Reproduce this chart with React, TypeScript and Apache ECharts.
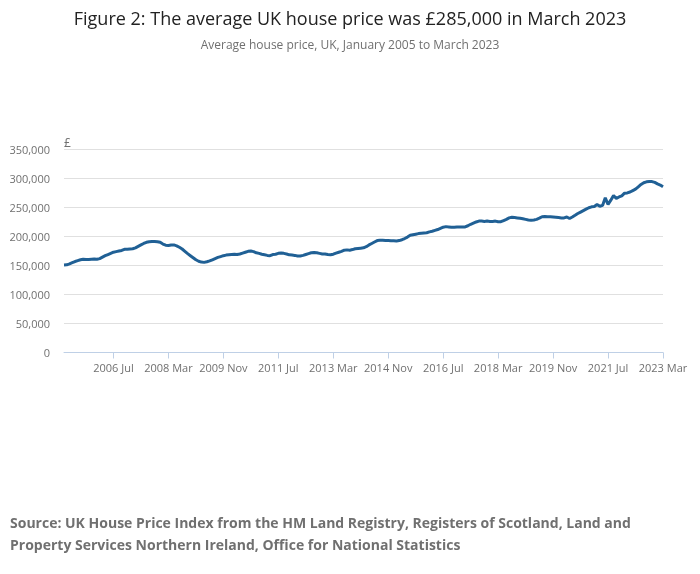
import { useEffect, useRef } from 'react';
import * as echarts from 'echarts';

// Monthly average UK house price (£ thousands), January 2005 to March 2023.
const MONTHS = ['Jan', 'Feb', 'Mar', 'Apr', 'May', 'Jun', 'Jul', 'Aug', 'Sep', 'Oct', 'Nov', 'Dec'];
const FIRST_YEAR = 2005;

const p2005 = [150.5, 150.8, 152.5, 154.5, 156.5, 158.0, 159.5, 160.3, 160.0, 160.0, 160.5, 160.8];
const p2006 = [160.5, 161.5, 164.0, 166.5, 168.5, 170.5, 172.5, 173.5, 174.5, 175.5, 177.5, 177.5];
const p2007 = [178.0, 178.5, 180.0, 182.5, 185.0, 187.5, 189.5, 190.5, 190.8, 190.8, 190.5, 189.5];
const p2008 = [186.5, 184.5, 184.0, 185.0, 185.0, 183.5, 181.0, 178.0, 174.0, 170.0, 166.5, 163.0];
const p2009 = [159.5, 157.0, 155.5, 155.0, 156.0, 157.5, 159.5, 161.5, 163.5, 165.0, 166.5, 167.5];
const p2010 = [168.0, 168.5, 169.0, 168.5, 169.5, 171.0, 172.5, 174.0, 174.5, 173.5, 171.5, 170.5];
const p2011 = [169.0, 168.0, 167.0, 166.5, 168.5, 169.0, 170.5, 171.0, 170.5, 169.5, 168.0, 167.5];
const p2012 = [167.0, 166.0, 166.0, 167.0, 168.5, 170.0, 171.5, 172.0, 171.5, 170.5, 169.5, 169.5];
const p2013 = [168.5, 168.0, 169.0, 171.0, 172.5, 174.0, 176.0, 176.5, 176.0, 177.0, 178.5, 179.0];
const p2014 = [179.5, 180.0, 182.0, 185.0, 187.5, 190.0, 192.5, 193.0, 193.0, 192.8, 192.5, 192.0];
const p2015 = [192.0, 191.8, 192.5, 194.0, 196.0, 198.5, 201.5, 202.5, 203.5, 204.5, 205.0, 205.5];
const p2016 = [206.0, 207.5, 208.5, 210.0, 211.5, 213.5, 215.5, 216.5, 216.0, 215.5, 215.5, 216.0];
const p2017 = [216.0, 216.0, 216.0, 218.0, 220.5, 222.5, 224.5, 226.0, 226.0, 225.5, 226.0, 225.5];
const p2018 = [225.5, 226.0, 225.0, 225.0, 227.0, 229.0, 231.5, 232.5, 232.0, 231.5, 231.0, 230.0];
const p2019 = [229.0, 228.0, 227.5, 228.0, 229.0, 231.0, 233.5, 234.0, 233.5, 233.5, 233.0, 232.5];
const p2020 = [232.0, 231.5, 231.5, 233.0, 230.5, 233.0, 236.0, 239.0, 241.5, 244.0, 246.5, 249.0];
const p2021 = [250.5, 251.0, 254.5, 251.5, 253.0, 266.0, 254.5, 262.0, 270.0, 265.0, 267.5, 269.5];
const p2022 = [274.0, 274.5, 276.0, 278.5, 281.0, 285.0, 289.0, 292.0, 293.5, 294.0, 294.0, 292.5];
const p2023 = [290.0, 288.0, 285.0];

const YEARS = [
  p2005, p2006, p2007, p2008, p2009, p2010, p2011, p2012, p2013,
  p2014, p2015, p2016, p2017, p2018, p2019, p2020, p2021, p2022, p2023,
];

const Y_TICKS = { min: 0, max: 350000, interval: 50000 };
const FIRST_LABEL = 18; // 2006 Jul
const LABEL_STEP = 20;

const TITLE = 'Figure 2: The average UK house price was £285,000 in March 2023';
const SUBTITLE = 'Average house price, UK, January 2005 to March 2023';
const SOURCE =
  'Source: UK House Price Index from the HM Land Registry, Registers of Scotland, Land and\nProperty Services Northern Ireland, Office for National Statistics';

const FONT = '"Open Sans", "Noto Sans", sans-serif';
const GREY = '#707070';

export default function App() {
  const ref = useRef<HTMLDivElement>(null);

  useEffect(() => {
    if (!ref.current) return;
    const chart = echarts.init(ref.current, undefined, { renderer: 'svg' });

    const categories: string[] = [];
    const values: number[] = [];
    YEARS.forEach((arr, y) => {
      arr.forEach((v, m) => {
        categories.push(`${FIRST_YEAR + y} ${MONTHS[m]}`);
        values.push(Math.round(v * 1000));
      });
    });
    const showTick = (i: number) => i >= FIRST_LABEL && (i - FIRST_LABEL) % LABEL_STEP === 0;

    chart.setOption({
      animation: false,
      textStyle: { fontFamily: FONT },
      title: [
        {
          text: TITLE,
          subtext: SUBTITLE,
          left: 'center',
          top: 4,
          itemGap: 11,
          textStyle: { fontFamily: FONT, fontSize: 18, fontWeight: 'normal', color: '#222222' },
          subtextStyle: { fontFamily: FONT, fontSize: 12, color: GREY },
        },
        {
          text: SOURCE,
          left: 5,
          top: 506,
          textStyle: { fontFamily: FONT, fontSize: 14, fontWeight: 'bold', color: GREY, lineHeight: 22 },
        },
      ],
      grid: { left: 64, right: 37, top: 149, bottom: 221.5, containLabel: false },
      xAxis: {
        type: 'category',
        data: categories,
        boundaryGap: false,
        axisLine: { lineStyle: { color: '#bfd0e6', width: 1 } },
        axisTick: { interval: showTick, length: 6, lineStyle: { color: '#bfd0e6' } },
        axisLabel: { interval: showTick, color: GREY, fontSize: 11, margin: 9, fontFamily: FONT },
        splitLine: { show: false },
      },
      yAxis: {
        type: 'value',
        ...Y_TICKS,
        name: '£',
        nameLocation: 'end',
        nameGap: 1,
        nameTextStyle: { align: 'left', color: GREY, fontSize: 12, fontFamily: FONT },
        axisLine: { show: false },
        axisTick: { show: false },
        axisLabel: {
          color: GREY,
          fontSize: 11,
          margin: 14,
          fontFamily: FONT,
          formatter: (v: number) => v.toLocaleString('en-GB'),
        },
        splitLine: { lineStyle: { color: '#e0e0e0', width: 1 } },
      },
      series: [
        {
          type: 'line',
          data: values,
          showSymbol: false,
          symbol: 'none',
          lineStyle: { color: '#206095', width: 3 },
          itemStyle: { color: '#206095' },
        },
      ],
    });

    return () => chart.dispose();
  }, []);

  return <div ref={ref} style={{ position: 'fixed', left: 0, top: 0, width: 700, height: 574 }} />;
}
